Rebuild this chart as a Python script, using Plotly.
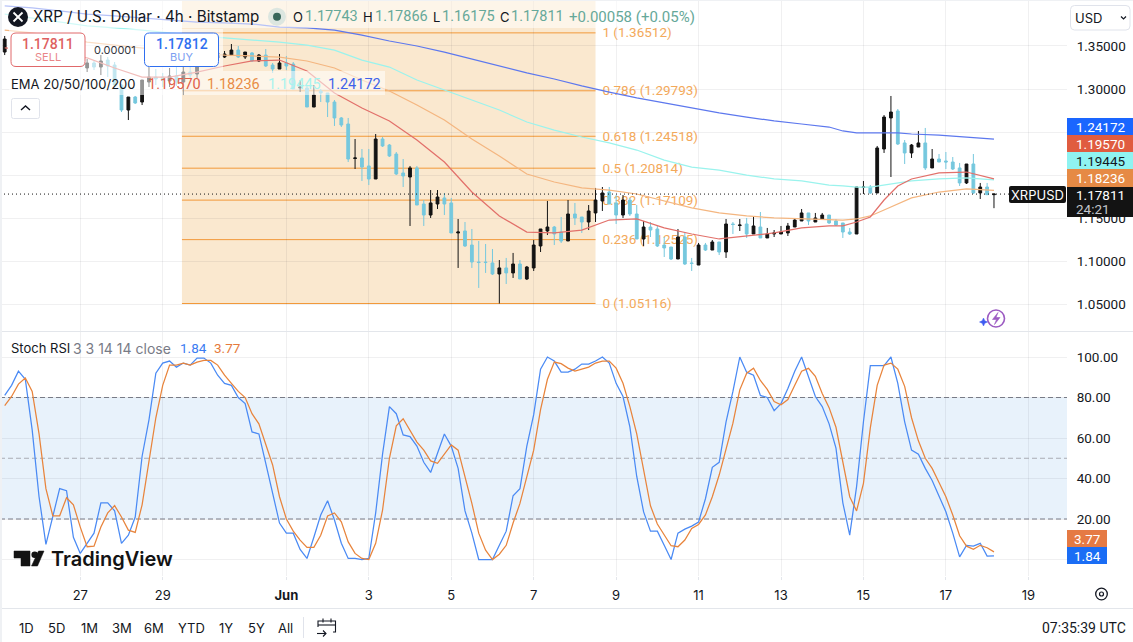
import pandas as pd
import plotly.graph_objects as go

# XRP/USD 4h bars, Bitstamp
opens = [1.3429,1.3534,1.3487,1.3418,1.3476,1.3406,1.3360,1.3441,1.3499,1.3441,1.3383,1.3452,1.3244,1.3302,1.3255,1.3336,1.3278,1.3046,1.2756,1.2907,
1.2849,1.3081,1.3139,1.3139,1.3093,1.3151,1.3081,1.3197,1.3174,1.3290,1.3406,1.3360,1.3371,1.3394,1.3452,1.3371,1.3418,1.3325,1.3394,1.3278,
1.3232,1.3302,1.3290,1.3012,1.3012,1.2791,1.2977,1.2954,1.2849,1.2664,1.2594,1.2194,1.2200,1.2107,1.1956,1.2420,1.2350,1.2246,1.2026,1.1979,
1.2084,1.1666,1.1538,1.1666,1.1736,1.1678,1.1330,1.1353,1.1190,1.0993,1.0993,1.0982,1.0854,1.0924,1.0866,1.0970,1.0796,1.0924,1.1179,1.1353,
1.1399,1.1341,1.1237,1.1550,1.1515,1.1457,1.1562,1.1701,1.1805,1.1678,1.1538,1.1712,1.1550,1.1260,1.1399,1.1376,1.1190,1.1167,1.1028,1.1283,
1.0982,1.0958,1.1190,1.1132,1.1225,1.1109,1.1434,1.1416,1.1434,1.1318,1.1399,1.1272,1.1318,1.1318,1.1330,1.1399,1.1469,1.1562,1.1457,1.1492,
1.1538,1.1469,1.1446,1.1341,1.1318,1.1857,1.1863,1.1794,1.2304,1.2664,1.2745,1.2374,1.2258,1.2327,1.2374,1.2084,1.2188,1.2165,1.2153,1.2084,
1.1910,1.2130,1.1794,1.1863,1.17743]
highs = [1.3615,1.3568,1.3545,1.3522,1.3499,1.3476,1.3487,1.3522,1.3545,1.3510,1.3499,1.3476,1.3348,1.3325,1.3394,1.3371,1.3313,1.3058,1.2907,1.2919,
1.3104,1.3255,1.3232,1.3186,1.3244,1.3255,1.3255,1.3302,1.3360,1.3452,1.3452,1.3476,1.3441,1.3522,1.3499,1.3429,1.3429,1.3406,1.3464,1.3302,
1.3406,1.3383,1.3313,1.3104,1.3046,1.3046,1.3000,1.2954,1.2872,1.2675,1.2664,1.2420,1.2304,1.2304,1.2478,1.2443,1.2362,1.2269,1.2188,1.2107,
1.2107,1.1712,1.1828,1.1828,1.1794,1.1736,1.1492,1.1457,1.1376,1.1237,1.1202,1.1144,1.1016,1.1040,1.1098,1.1016,1.0947,1.1248,1.1376,1.1701,
1.1411,1.1515,1.1712,1.1678,1.1515,1.1654,1.1852,1.1863,1.1863,1.1770,1.1770,1.1736,1.1654,1.1469,1.1457,1.1411,1.1283,1.1167,1.1376,1.1330,
1.1040,1.1214,1.1214,1.1248,1.1225,1.1492,1.1457,1.1492,1.1504,1.1515,1.1573,1.1388,1.1364,1.1411,1.1446,1.1492,1.1608,1.1562,1.1562,1.1562,
1.1538,1.1492,1.1446,1.1388,1.1863,1.1933,1.1886,1.2339,1.2698,1.2919,1.2768,1.2408,1.2362,1.2513,1.2548,1.2304,1.2246,1.2269,1.2211,1.2142,
1.2130,1.2246,1.1910,1.1910,1.17866]
lows = [1.3394,1.3429,1.3383,1.3360,1.3336,1.3313,1.3336,1.3383,1.3394,1.3336,1.3336,1.3313,1.3197,1.3220,1.3162,1.3139,1.3035,1.2733,1.2640,1.2826,
1.2814,1.3023,1.3046,1.3023,1.3023,1.3035,1.2930,1.3116,1.3128,1.3278,1.3290,1.3313,1.3360,1.3394,1.3360,1.3348,1.3313,1.3313,1.3255,1.3186,
1.3232,1.3220,1.3000,1.2965,1.2791,1.2791,1.2849,1.2675,1.2571,1.2559,1.2153,1.2072,1.1933,1.1886,1.1956,1.2327,1.2211,1.2002,1.1863,1.1411,
1.1654,1.1411,1.1504,1.1608,1.1538,1.1330,1.0924,1.1167,1.0924,1.0692,1.0866,1.0842,1.05116,1.0738,1.0808,1.0796,1.0784,1.0889,1.1109,1.1306,
1.1190,1.1214,1.1237,1.1422,1.1330,1.1364,1.1457,1.1585,1.1666,1.1434,1.1504,1.1527,1.1260,1.1179,1.1283,1.1167,1.1051,1.1016,1.1028,1.0958,
1.0889,1.0958,1.1121,1.1132,1.1074,1.1040,1.1318,1.1353,1.1272,1.1318,1.1272,1.1272,1.1283,1.1318,1.1295,1.1399,1.1469,1.1422,1.1457,1.1492,
1.1434,1.1411,1.1272,1.1306,1.1318,1.1782,1.1782,1.1794,1.2258,1.1979,1.2350,1.2130,1.2200,1.2327,1.2060,1.2084,1.2153,1.2072,1.2060,1.1875,
1.1898,1.1782,1.1724,1.1770,1.16175]
closes = [1.3580,1.3476,1.3429,1.3476,1.3394,1.3360,1.3452,1.3499,1.3429,1.3383,1.3452,1.3360,1.3302,1.3255,1.3325,1.3267,1.3046,1.2756,1.2907,1.2838,
1.3104,1.3139,1.3116,1.3104,1.3151,1.3081,1.3197,1.3162,1.3255,1.3383,1.3336,1.3418,1.3406,1.3452,1.3371,1.3429,1.3325,1.3394,1.3267,1.3232,
1.3302,1.3267,1.3000,1.3023,1.2791,1.2930,1.2954,1.2849,1.2664,1.2582,1.2188,1.2200,1.2095,1.1956,1.2420,1.2339,1.2223,1.2014,1.1991,1.2084,
1.1654,1.1538,1.1678,1.1747,1.1666,1.1330,1.1341,1.1179,1.0993,1.0987,1.0987,1.0854,1.0924,1.0866,1.0970,1.0796,1.0935,1.1190,1.1376,1.1399,
1.1318,1.1237,1.1550,1.1504,1.1457,1.1585,1.1712,1.1794,1.1666,1.1538,1.1712,1.1550,1.1260,1.1399,1.1364,1.1179,1.1156,1.1028,1.1283,1.0970,
1.0976,1.1190,1.1132,1.1225,1.1109,1.1434,1.1428,1.1422,1.1318,1.1411,1.1272,1.1318,1.1330,1.1341,1.1411,1.1480,1.1562,1.1469,1.1504,1.1538,
1.1446,1.1422,1.1341,1.1318,1.1863,1.1863,1.1794,1.2316,1.2675,1.2733,1.2362,1.2258,1.2350,1.2374,1.2084,1.2188,1.2153,1.2153,1.2072,1.1910,
1.2130,1.1794,1.1863,1.1774,1.17811]

# EMA readings, taken at these bar numbers
ema_bars = [0,4,8,12,16,20,24,28,32,36,40,44,48,52,56,60,64,68,72,76,80,84,88,92,96,100,104,108,112,116,120,122,124,126,128,130,132,136,140,144]
ema20 = [1.3476,1.3452,1.3418,1.3360,1.3244,1.3139,1.3139,1.3197,1.3267,1.3325,1.3336,1.3209,1.2954,1.2780,1.2629,1.2408,1.2153,1.1805,1.1527,1.1341,1.1330,1.1364,1.1480,1.1492,1.1388,1.1318,1.1260,1.1295,1.1330,1.1388,1.1411,1.1411,1.1457,1.1515,1.1712,1.1875,1.1956,1.2026,1.2037,1.19570]
ema50 = [1.3684,1.3650,1.3603,1.3545,1.3510,1.3476,1.3441,1.3418,1.3394,1.3383,1.3371,1.3325,1.3244,1.3104,1.2977,1.2814,1.2640,1.2420,1.2223,1.2014,1.1921,1.1852,1.1828,1.1782,1.1701,1.1620,1.1562,1.1527,1.1504,1.1492,1.1480,1.1480,1.1492,1.1527,1.1596,1.1666,1.1736,1.1805,1.1840,1.18236]
ema100 = [1.3870,1.3824,1.3777,1.3731,1.3708,1.3684,1.3650,1.3615,1.3592,1.3568,1.3545,1.3510,1.3452,1.3336,1.3255,1.3104,1.2988,1.2872,1.2756,1.2617,1.2524,1.2443,1.2374,1.2292,1.2176,1.2095,1.2060,1.2002,1.1956,1.1933,1.1886,1.1875,1.1863,1.1863,1.1886,1.1910,1.1933,1.1956,1.1968,1.19445]
ema200 = [1.3963,1.3940,1.3905,1.3870,1.3847,1.3824,1.3800,1.3777,1.3766,1.3754,1.3719,1.3708,1.3684,1.3626,1.3557,1.3499,1.3429,1.3348,1.3267,1.3186,1.3116,1.3035,1.2965,1.2896,1.2838,1.2780,1.2722,1.2675,1.2629,1.2594,1.2559,1.2513,1.2490,1.2490,1.2490,1.2490,1.2478,1.2466,1.2443,1.24172]

# Stochastic RSI (3 3 14 14 close), one reading per bar
stoch_k = [81,86,93,89,64,31,7.5,21,35,34,11,3,8,13,28,28,24,8,12,21,51,69,92,97,98,95,97,96,99.5,99.5,
97,91,87,86,80,77,63,62,47.5,32,18,13,13,5,0.5,11,22,29,19.5,8,0.5,0.5,0,0.5,23,52,75.5,72,61.5,60.7,
56,48,43,52.5,62,56,45,24,13,0,0,0,7,14,31.5,35,56,71.5,94,100,98,92.5,92.5,94,96.5,96.5,98,100,97,87,
80.5,65.5,41,23.5,14,14,7,0,13,15,16.5,18.5,30,45.5,48,68,83,100,92.5,91,81,80,73.5,77,84.5,93,100,90.5,80.5,75.5,
67,55,28,12,36,68,95.7,95.7,95.7,100,87,68,54,52,45,39,31,23.6,13,1.3,7,6.6,8,1.7,1.84]
stoch_d = [76,80.5,86.6,89.6,83,62,35,21.6,21.6,30.5,27,16,6.3,6.6,16,23,26.6,21,14.5,13.4,27,47.5,70,86,96,96,97,96,97.5,98.3,
98.3,96,91,87,83,80,72,67,56.6,46.7,31,20,14,9.6,6,6,12,21.5,23,18.6,8.7,3,0.5,0,8,24.4,50,66,69.5,64,
58,54,48.7,47.5,52,56.6,54,41,27.7,13,4.6,0,2.6,7,18,27.7,41,54,74,89,97.5,96.7,94.5,93,94,95,97,98,98,94.5,
87,75.5,62,44,26.5,17.5,12,6.8,6.3,9.6,15.3,17.3,22,31,41.7,54,67.3,83.8,92,94.5,88.4,84,78,76.4,79,86,93,94.4,90.5,82,
75,65.3,49,31,24,37.6,65,86,96,97,94,85.5,70,58.6,50,45,38,31,22,11.7,6.6,5,7,5.8,3.77]

# Fibonacci retracement
fib_ratios = ["0", "0.236", "0.382", "0.5", "0.618", "0.786", "1"]
fib_prices = [1.05116, 1.12525, 1.17109, 1.20814, 1.24518, 1.29793, 1.36512]
fib_start_bar = 25.8
fib_end_bar = 86

# Stoch RSI guide levels
stoch_bands = [20, 50, 80]
stoch_band_colors = ["#787B86", "#A9ACB4", "#787B86"]

# Axis ticks
date_ticks = ["2025-05-27", "2025-05-29", "2025-06-01", "2025-06-03", "2025-06-05", "2025-06-07", "2025-06-09",
              "2025-06-11", "2025-06-13", "2025-06-15", "2025-06-17", "2025-06-19"]
date_labels = ["27", "29", "<b>Jun</b>", "3", "5", "7", "9", "11", "13", "15", "17", "19"]
price_ticks = [1.05, 1.10, 1.15, 1.20, 1.25, 1.30, 1.35]
price_labels = ["1.05000", "1.10000", "1.15000", "", "", "1.30000", "1.35000"]
stoch_ticks = [0, 20, 40, 60, 80, 100]
stoch_labels = ["", "20.00", "40.00", "60.00", "80.00", "100.00"]

FONT = "Inter, 'Liberation Sans', sans-serif"
NUM_FONT = "Roboto, 'Liberation Sans', sans-serif"
NUM_SIZE = 13.5
ROW_NUM_SIZE = 14.5
INK = "#131722"
BLACK = "#131313"
SKY = "#76C8DE"
GRID = "rgba(42,46,57,0.07)"
FIB = "#F2993A"
FIB_TEXT = "#F3A95B"
TEAL = "#66A899"

FIG_W, FIG_H = 1133, 642
PLOT_W, PLOT_H = 1067, 576
PANE_SPLIT = 331
CAPTION_NUDGE = 0.0013


def px(x):
    return x / PLOT_W


def py(y):
    return (PLOT_H - y) / PLOT_H


bar_step = pd.Timedelta(hours=4)
bar_times = pd.date_range("2025-05-25 04:00", periods=len(closes), freq="4h")
t0 = bar_times[0]
BAR_PX = 6.87
FIRST_PX = 4.7


def bar_time(n):
    return t0 + bar_step * n


x_range = [t0 - bar_step * (FIRST_PX / BAR_PX), t0 + bar_step * ((PLOT_W - FIRST_PX) / BAR_PX)]
ema_times = [bar_time(n) for n in ema_bars]
price_range = [1.40325 - PANE_SPLIT / 862, 1.40325]
stoch_range = [(559.5 - PLOT_H) / 2.025, (559.5 - 332) / 2.025]

fig = go.Figure()

# Level captions sit on the base subplot so that the candles pass over them
fig.add_trace(go.Scatter(
    x=[bar_time(fib_end_bar + 1.0)] * len(fib_prices), y=[p - CAPTION_NUDGE for p in fib_prices], mode="text",
    text=[f"{r} ({p:.5f})" for r, p in zip(fib_ratios, fib_prices)],
    textposition="middle right", textfont=dict(family=NUM_FONT, size=NUM_SIZE, color=FIB_TEXT),
    xaxis="x", yaxis="y", hoverinfo="skip", showlegend=False,
))

fig.add_trace(go.Candlestick(
    x=bar_times, open=opens, high=highs, low=lows, close=closes,
    increasing=dict(line=dict(color=BLACK, width=1), fillcolor=BLACK),
    decreasing=dict(line=dict(color=SKY, width=1), fillcolor=SKY),
    whiskerwidth=0, xaxis="x", yaxis="y3", showlegend=False,
))

for values, color in [(ema200, "#5D78EE"), (ema100, "#9AF3ED"), (ema50, "#F4B680"), (ema20, "#E2706A")]:
    fig.add_trace(go.Scatter(x=ema_times, y=values, mode="lines", line=dict(color=color, width=1.25),
                             xaxis="x", yaxis="y3", hoverinfo="skip", showlegend=False))

fig.add_trace(go.Scatter(x=x_range, y=[closes[-1]] * 2, mode="lines",
                         line=dict(color=BLACK, width=1, dash="1px,3px"),
                         xaxis="x", yaxis="y3", hoverinfo="skip", showlegend=False))

for level, color in zip(stoch_bands, stoch_band_colors):
    fig.add_trace(go.Scatter(x=x_range, y=[level, level], mode="lines",
                             line=dict(color=color, width=1, dash="5px,3px"),
                             xaxis="x2", yaxis="y2", hoverinfo="skip", showlegend=False))

fig.add_trace(go.Scatter(x=bar_times, y=stoch_k, mode="lines", line=dict(color="#4A8AF4", width=1.25),
                         xaxis="x2", yaxis="y2", hoverinfo="skip", showlegend=False))
fig.add_trace(go.Scatter(x=bar_times, y=stoch_d, mode="lines", line=dict(color="#E8843C", width=1.25),
                         xaxis="x2", yaxis="y2", hoverinfo="skip", showlegend=False))

shapes = []


def box(x0, y0, x1, y1, fill, line=None, layer="above", radius=0, width=1):
    """Chrome rectangle given in page pixels, optionally with rounded corners."""
    X0, X1, Y0, Y1 = px(x0), px(x1), py(y0), py(y1)
    if radius:
        rx, ry = radius / PLOT_W, radius / PLOT_H
        path = (f"M{X0+rx},{Y0} L{X1-rx},{Y0} Q{X1},{Y0} {X1},{Y0-ry} L{X1},{Y1+ry} Q{X1},{Y1} {X1-rx},{Y1} "
                f"L{X0+rx},{Y1} Q{X0},{Y1} {X0},{Y1+ry} L{X0},{Y0-ry} Q{X0},{Y0} {X0+rx},{Y0} Z")
        shapes.append(dict(type="path", path=path, xref="paper", yref="paper", fillcolor=fill,
                           line=dict(color=line or "rgba(0,0,0,0)", width=width), layer=layer))
    else:
        shapes.append(dict(type="rect", xref="paper", yref="paper", x0=X0, x1=X1, y0=Y0, y1=Y1, fillcolor=fill,
                           line=dict(color=line or "rgba(0,0,0,0)", width=width if line else 0), layer=layer))


def stroke(points, color, width=1.2, fill=None, close=False):
    """Polyline icon stroke given in page pixels."""
    d = "M" + " L".join(f"{px(x)},{py(y)}" for x, y in points) + (" Z" if close else "")
    shapes.append(dict(type="path", path=d, xref="paper", yref="paper", fillcolor=fill,
                       line=dict(color=color, width=width), layer="above"))


def ring(cx, cy, r, fill=None, line=None, width=1.2):
    shapes.append(dict(type="circle", xref="paper", yref="paper", x0=px(cx - r), x1=px(cx + r),
                       y0=py(cy + r), y1=py(cy - r), fillcolor=fill or "rgba(0,0,0,0)",
                       line=dict(color=line or "rgba(0,0,0,0)", width=width if line else 0), layer="above"))


# Fibonacci zone and levels
shapes.append(dict(type="rect", xref="x", yref="y", x0=bar_time(fib_start_bar), x1=bar_time(fib_end_bar),
                   y0=fib_prices[0], y1=price_range[1], fillcolor="rgba(235,163,63,0.25)",
                   line=dict(width=0), layer="below"))
for level in fib_prices:
    shapes.append(dict(type="line", xref="x", yref="y", x0=bar_time(fib_start_bar), x1=bar_time(fib_end_bar),
                       y0=level, y1=level, line=dict(color=FIB, width=1), layer="below"))

# Stoch RSI band
shapes.append(dict(type="rect", xref="paper", yref="y2", x0=0, x1=1, y0=20, y1=80,
                   fillcolor="rgba(33,130,220,0.10)", line=dict(width=0), layer="below"))

# Translucent bands behind the legend rows
box(0, 1, 698, 28, "rgba(255,255,255,0.55)")
box(9, 29, 223, 71, "rgba(255,255,255,0.55)")
box(9, 71, 385, 95, "rgba(255,255,255,0.55)")

# Pane separators and page edges
box(0, 331, FIG_W, 332, "#E3E6EB")
box(0, 608, FIG_W, 609, "#E3E6EB")
box(0, 0, 2, FIG_H, "#EFF1F4")
box(0, 0, FIG_W, 1, "#EFF1F4")

# Order buttons
box(8, 33, 11, 66.5, "#FFFFFF")
box(11, 33, 85, 66.5, "#FFFFFF", "#E0686A", radius=5)
box(144.5, 33, 218.5, 66.5, "#FFFFFF", "#2F6FF0", radius=5)

# Price scale tags
box(1067, 118, FIG_W, 135, "#1A66FF")
box(1067, 135, FIG_W, 152, "#E05C40")
box(1067, 152, FIG_W, 169, "#8FF3F1")
box(1067, 169, FIG_W, 187, "#E68A45")
box(1067, 187, FIG_W, 217, "#131313")
box(1009, 186, 1066, 203, "#131313", radius=2)
box(1067, 530, 1107, 547, "#E57A44")
box(1067, 547, 1107, 564, "#1A6DF5")

# Currency selector and collapse button
box(1070.5, 5.5, 1130, 30, "#FFFFFF", "#E0E3EB", radius=4)
stroke([(1121, 16.5), (1123.5, 19), (1126, 16.5)], INK, 1.2)
box(11.5, 98.5, 39.5, 118.5, "#FFFFFF", "#E0E3EB", radius=2)
stroke([(21, 110), (25.5, 106), (30, 110)], INK, 1.4)

# Symbol badge
ring(18, 17, 10, fill="#131722")
stroke([(13.5, 12.5), (22.5, 21.5)], "#FFFFFF", 1.8)
stroke([(22.5, 12.5), (13.5, 21.5)], "#FFFFFF", 1.8)

# Market status dot
ring(277, 16.7, 9, fill="#DCE6E0")
ring(277, 16.7, 4, fill="#37665A")

# TradingView mark
stroke([(14, 551), (30, 551), (30, 566), (21, 566), (21, 558), (14, 558)], BLACK, 0.5, fill=BLACK, close=True)
ring(34.7, 554.7, 3.3, fill=BLACK)
stroke([(38.5, 551), (44, 551), (37.5, 566), (31.5, 566)], BLACK, 0.5, fill=BLACK, close=True)

# Data-window lightning badge
ring(996, 318.5, 8.5, line="#9C5BC2", width=1.6)
stroke([(998, 312.5), (992.5, 319.5), (996.5, 319.5), (994.5, 324.5), (1000, 317.5), (996, 317.5)], "#9C5BC2", 0.6,
       fill="#9C5BC2", close=True)
stroke([(983.5, 318), (984.8, 320.8), (987.5, 322), (984.8, 323.2), (983.5, 326), (982.2, 323.2), (979.5, 322),
        (982.2, 320.8)], "#3F5BF0", 0.5, fill="#3F5BF0", close=True)

# Chart settings gear
ring(1101.5, 594, 5.8, line=INK, width=1.3)
ring(1101.5, 594, 2, line=INK, width=1.2)

# Date-range button and calendar icon
box(303, 617, 304, 638, "#E0E3EB")
stroke([(333, 632), (335.5, 632), (335.5, 621), (318, 621), (318, 627)], INK, 1.1)
stroke([(318, 625), (335.5, 625)], INK, 1.1)
stroke([(323, 618.5), (323, 622.5)], INK, 1.1)
stroke([(331, 618.5), (331, 622.5)], INK, 1.1)
stroke([(317, 633.5), (326, 633.5)], INK, 1.1)
stroke([(323, 630.5), (326, 633.5), (323, 636.5)], INK, 1.1)


annotations = []


def note(text, x, y, size=13, color=INK, anchor="left", weight=None, family=FONT):
    f = dict(family=family, size=size, color=color)
    if weight:
        f["weight"] = weight
    annotations.append(dict(text=text, xref="paper", yref="paper", x=px(x), y=py(y), xanchor=anchor, yanchor="middle",
                            showarrow=False, font=f, borderpad=0, borderwidth=0))


def num(text, x, y, color=INK, anchor="left", weight=None, size=NUM_SIZE):
    note(text, x, y, size=size, color=color, anchor=anchor, weight=weight, family=NUM_FONT)


# Header row
note("XRP / U.S. Dollar · 4h · Bitstamp", 33, 17, size=15.2)
for label, x in [("O", 293), ("H", 363), ("L", 433), ("C", 500)]:
    note(label, x, 17)
for value, x in [("1.17743", 305), ("1.17866", 375), ("1.16175", 442), ("1.17811", 511)]:
    num(value, x, 17, color=TEAL, size=ROW_NUM_SIZE)
num("+0.00058 (+0.05%)", 569, 17, color=TEAL, size=15)

# Buy and sell buttons
num("1.17811", 48, 43.5, color="#DE5F61", anchor="center", weight=500, size=14)
note("SELL", 48, 57.5, size=11, color="#E98688", anchor="center")
num("1.17812", 181.5, 43.5, color="#2F6FF0", anchor="center", weight=500, size=14)
note("BUY", 181.5, 57.5, size=11, color="#7C9FF2", anchor="center")
note("0.00001", 114.5, 50, size=11, color="#333640", anchor="center")

# EMA legend row
note("EMA 20/50/100/200", 11, 84)
for value, x, color in [(f"{ema20[-1]:.5f}", 148, "#E0604A"), (f"{ema50[-1]:.5f}", 207, "#E88C46"),
                        (f"{ema100[-1]:.5f}", 268, "#A8F3EE"), (f"{ema200[-1]:.5f}", 328, "#3F62EA")]:
    num(value, x, 84, color=color, size=ROW_NUM_SIZE)

# Stoch RSI legend row
note("Stoch RSI", 11, 348)
note("3 3 14 14 close", 73, 348, size=14, color="#787B86")
num(f"{stoch_k[-1]:.2f}", 180, 348, color="#3B7CF2")
num(f"{stoch_d[-1]:.2f}", 214, 348, color="#E57A3C")

# Price scale tag labels
num(f"{ema200[-1]:.5f}", 1076, 127, color="#FFFFFF")
num(f"{ema20[-1]:.5f}", 1076, 144, color="#FFFFFF")
num(f"{ema100[-1]:.5f}", 1076, 161, color=INK)
num(f"{ema50[-1]:.5f}", 1076, 178, color="#FFFFFF")
num(f"{closes[-1]:.5f}", 1076, 195, color="#FFFFFF")
num("24:21", 1076, 209, color="#C4C6CC")
note("XRPUSD", 1037.5, 194.5, color="#FFFFFF", anchor="center")
num(f"{stoch_d[-1]:.2f}", 1087, 538.5, color="#FFFFFF", anchor="center")
num(f"{stoch_k[-1]:.2f}", 1087, 555.5, color="#FFFFFF", anchor="center")
note("USD", 1075, 18)

# Wordmark
note("TradingView", 51, 559, size=20, color=BLACK, weight=600)

# Bottom toolbar
for label, x in [("1D", 26), ("5D", 56), ("1M", 89), ("3M", 122), ("6M", 154), ("YTD", 191), ("1Y", 226),
                 ("5Y", 256), ("All", 285)]:
    note(label, x, 628, anchor="center")
num("07:35:39 UTC", 1126, 628, anchor="right", size=14)

fig.update_layout(
    width=FIG_W, height=FIG_H, autosize=False,
    margin=dict(l=0, r=FIG_W - PLOT_W, t=0, b=FIG_H - PLOT_H, pad=0),
    paper_bgcolor="#FFFFFF", plot_bgcolor="#FFFFFF",
    font=dict(family=FONT, size=13, color=INK),
    showlegend=False, hovermode=False, boxgap=0.42,
    shapes=shapes, annotations=annotations,
    xaxis=dict(domain=[0, 1], range=x_range, anchor="y", type="date", rangeslider=dict(visible=False),
               tickvals=date_ticks, ticktext=[""] * len(date_ticks), showgrid=True, gridcolor=GRID, gridwidth=1,
               showline=False, zeroline=False, ticks=""),
    xaxis2=dict(domain=[0, 1], range=x_range, anchor="y2", type="date", matches="x",
                tickvals=date_ticks, ticktext=date_labels, showgrid=True, gridcolor=GRID, gridwidth=1,
                showline=False, zeroline=False, ticks="outside", ticklen=3, tickcolor="#E3E6EB",
                ticklabelstandoff=4, tickfont=dict(family=FONT, size=13, color=INK)),
    yaxis=dict(domain=[(PLOT_H - PANE_SPLIT) / PLOT_H, 1], range=price_range, side="right", anchor="x",
               tickvals=price_ticks, ticktext=price_labels, showgrid=True, gridcolor=GRID, gridwidth=1,
               zeroline=False, showline=False, ticks="outside", ticklen=6, tickcolor="rgba(0,0,0,0)",
               tickfont=dict(family=NUM_FONT, size=NUM_SIZE, color=INK)),
    yaxis2=dict(domain=[0, (PLOT_H - 332) / PLOT_H], range=stoch_range, side="right", anchor="x2",
                tickvals=stoch_ticks, ticktext=stoch_labels, showgrid=True, gridcolor=GRID, gridwidth=1,
                zeroline=False, showline=False, ticks="outside", ticklen=6, tickcolor="rgba(0,0,0,0)",
                tickfont=dict(family=NUM_FONT, size=NUM_SIZE, color=INK)),
    yaxis3=dict(overlaying="y", range=price_range, side="right", anchor="x", visible=False,
                showgrid=False, zeroline=False),
)

fig.write_html("out.html", config=dict(displayModeBar=False))
